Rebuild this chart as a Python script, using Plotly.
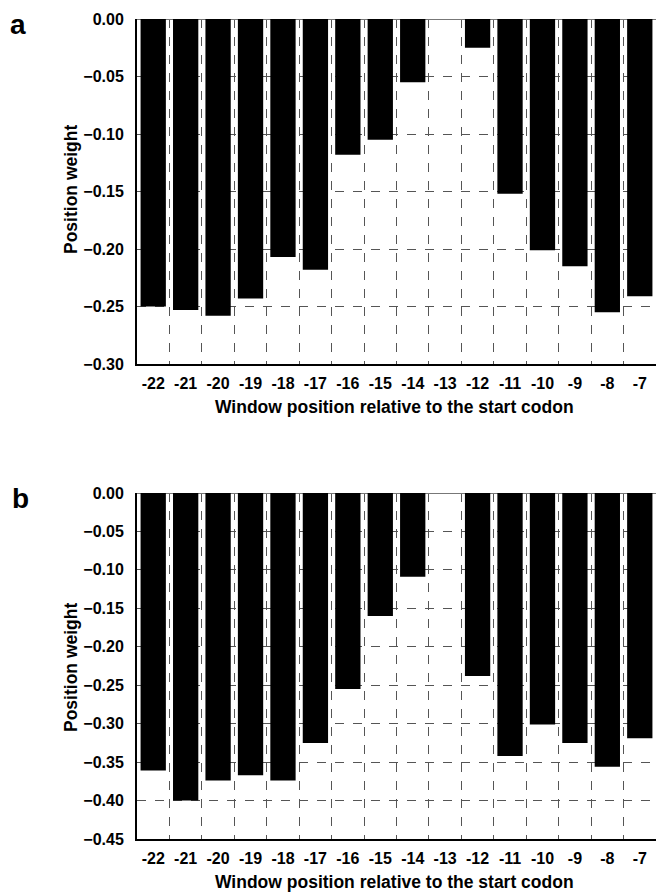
import plotly.graph_objects as go

positions = ["-22", "-21", "-20", "-19", "-18", "-17", "-16", "-15",
             "-14", "-13", "-12", "-11", "-10", "-9", "-8", "-7"]
weights_a = [-0.250, -0.253, -0.258, -0.243, -0.207, -0.218, -0.118, -0.105,
             -0.055, 0.0, -0.025, -0.152, -0.201, -0.215, -0.255, -0.241]
weights_b = [-0.361, -0.400, -0.374, -0.367, -0.374, -0.325, -0.255, -0.160,
             -0.109, 0.0, -0.238, -0.342, -0.301, -0.325, -0.356, -0.319]
yticks_a = [0.00, -0.05, -0.10, -0.15, -0.20, -0.25, -0.30]
yticks_b = [0.00, -0.05, -0.10, -0.15, -0.20, -0.25, -0.30, -0.35, -0.40, -0.45]

W, H = 656, 892
L, R, T, B = 137, 0, 19, 53
PH = H - T - B


def py(p):
    return (H - B - p) / PH


def px(p):
    return (p - L) / (W - L - R)


FONT = "Liberation Sans, Arial, Helvetica, sans-serif"

fig = go.Figure()
fig.add_trace(go.Bar(x=positions, y=weights_a, marker=dict(color="black", line=dict(width=0)),
                     xaxis="x", yaxis="y", showlegend=False, hoverinfo="skip"))
fig.add_trace(go.Bar(x=positions, y=weights_b, marker=dict(color="black", line=dict(width=0)),
                     xaxis="x2", yaxis="y2", showlegend=False, hoverinfo="skip"))

xcommon = dict(type="category", categoryorder="array", categoryarray=positions,
               tickson="boundaries", showgrid=True, gridcolor="#555555", griddash="dash",
               gridwidth=1, showline=True, linecolor="black", linewidth=2, ticks="",
               tickfont=dict(family=FONT, size=16, color="black", weight="bold"),
               ticklabelstandoff=4, automargin=False)
ycommon = dict(showgrid=True, gridcolor="#555555", griddash="dash", gridwidth=1,
               showline=True, linecolor="black", linewidth=2, ticks="",
               zeroline=True, zerolinecolor="#777777", zerolinewidth=1,
               tickformat=".2f",
               tickfont=dict(family=FONT, size=16, color="black", weight="bold"),
               ticklabelstandoff=8, automargin=False)

fig.update_layout(
    width=W, height=H,
    margin=dict(l=L, r=R, t=T, b=B, autoexpand=False),
    plot_bgcolor="white", paper_bgcolor="white",
    bargap=0.22,
    xaxis=dict(domain=[0, 1], anchor="y", **xcommon),
    yaxis=dict(domain=[py(364), 1.0], anchor="x", range=[-0.30, 0.0],
               tickvals=yticks_a, **ycommon),
    xaxis2=dict(domain=[0, 1], anchor="y2", **xcommon),
    yaxis2=dict(domain=[0, py(493)], anchor="x2", range=[-0.45, 0.0],
                tickvals=yticks_b, **ycommon),
)

tfont = dict(family=FONT, size=17.5, color="black", weight="bold")
yfont = dict(family=FONT, size=17.5, color="black", weight="bold")
lfont = dict(family=FONT, size=28, color="black", weight="bold")
ann = [
    dict(text="Window position relative to the start codon", x=px(394), y=py(407),
         font=tfont),
    dict(text="Window position relative to the start codon", x=px(394), y=py(882),
         font=tfont),
    dict(text="Position weight", x=px(71), y=py(190), textangle=-90, font=yfont),
    dict(text="Position weight", x=px(71), y=py(668), textangle=-90, font=yfont),
    dict(text="a", x=px(18), y=py(24), font=lfont),
    dict(text="b", x=px(20), y=py(498), font=lfont),
]
for a in ann:
    fig.add_annotation(xref="paper", yref="paper", showarrow=False,
                       xanchor="center", yanchor="middle", **a)

fig.write_html("out.html", config={"displayModeBar": False},
               post_script="document.body.style.margin='0px';document.body.style.overflow='hidden';")
